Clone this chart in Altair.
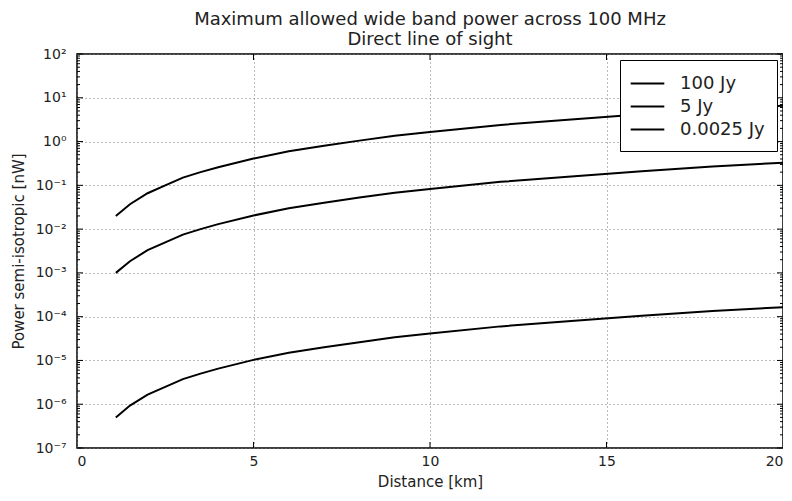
import altair as alt
import pandas as pd

# Distances [km]
distance = [1.1, 1.5, 2.0, 2.5, 3.0, 3.5, 4.0, 5.0, 6.0, 7.0, 8.0, 9.0, 10.0, 12.0, 14.0, 16.0, 18.0, 20.0]
# Power [nW]
p_100 = [0.02, 0.037, 0.066, 0.10, 0.15, 0.2, 0.26, 0.41, 0.6, 0.8, 1.05, 1.35, 1.65, 2.4, 3.2, 4.2, 5.4, 6.6]
p_5 = [0.001, 0.00185, 0.0033, 0.005, 0.0075, 0.01, 0.013, 0.0205, 0.03, 0.04, 0.0525, 0.0675, 0.0825, 0.12, 0.16, 0.21, 0.27, 0.33]
p_00025 = [5e-7, 9.3e-7, 1.65e-6, 2.5e-6, 3.75e-6, 5e-6, 6.5e-6, 1.03e-5, 1.5e-5, 2e-5, 2.6e-5, 3.4e-5, 4.1e-5, 6e-5, 8e-5, 1.05e-4, 1.35e-4, 1.65e-4]
series = ["100 Jy", "5 Jy", "0.0025 Jy"]

y_exponents = [-7, -6, -5, -4, -3, -2, -1, 0, 1, 2]
x_ticks = [0, 5, 10, 15, 20]

W, H = 706, 394
FONT = "DejaVu Sans"
TXT = "#222222"

rows = []
for name, vals in zip(series, [p_100, p_5, p_00025]):
    for d, v in zip(distance, vals):
        rows.append({"d": d, "p": v, "s": name})
df = pd.DataFrame(rows)

major_y = [10.0 ** e for e in y_exponents]
minor_y = [m * 10.0 ** e for e in y_exponents[:-1] for m in range(2, 10)]
xtick_df = pd.DataFrame({"d": x_ticks[1:-1]})
ymaj = pd.DataFrame({"p": major_y})
ymin = pd.DataFrame({"p": minor_y})

sup = str.maketrans("-0123456789", "⁻⁰¹²³⁴⁵⁶⁷⁸⁹")
expr = "''"
for e in reversed(y_exponents):
    expr = f"round(log(datum.value)/LN10) == {e} ? '10{str(e).translate(sup)}' : ({expr})"

xs = alt.Scale(domain=[0, 20], nice=False, zero=False)
ys = alt.Scale(type="log", domain=[1e-7, 1e2], nice=False)
x_axis = alt.Axis(values=x_ticks, grid=True, ticks=False, labelPadding=6, titlePadding=6,
                  titleFontSize=15)
y_axis = alt.Axis(values=major_y, grid=True, ticks=False, labelExpr=expr,
                  labelPadding=11, titlePadding=9, titleFontSize=15)
X_T = "Distance [km]"
Y_T = "Power semi-isotropic [nW]"

lines = alt.Chart(df).mark_line(strokeWidth=2, color="black").encode(
    x=alt.X("d:Q", scale=xs, title=X_T, axis=x_axis),
    y=alt.Y("p:Q", scale=ys, title=Y_T, axis=y_axis),
    color=alt.Color("s:N", scale=alt.Scale(domain=series, range=["black"] * 3),
                    legend=alt.Legend(title=None, orient="none", legendX=543, legendY=6,
                                      symbolType="M-1.6,0H1.6", symbolSize=441,
                                      symbolStrokeWidth=2, labelFontSize=18,
                                      labelFont=FONT, labelColor=TXT,
                                      fillColor="white", strokeColor="black",
                                      padding=12, rowPadding=2, symbolOffset=4,
                                      labelOffset=21)),
    detail="s:N",
)

ticks = []
for data, L in [(ymaj, 6), (ymin, 3)]:
    ticks.append(alt.Chart(data).mark_rule(color="black").encode(
        y=alt.Y("p:Q", scale=ys, title=Y_T, axis=y_axis), x=alt.value(0), x2=alt.value(L)))
    ticks.append(alt.Chart(data).mark_rule(color="black").encode(
        y=alt.Y("p:Q", scale=ys, title=Y_T, axis=y_axis), x=alt.value(W - L), x2=alt.value(W)))
ticks.append(alt.Chart(xtick_df).mark_rule(color="black").encode(
    x=alt.X("d:Q", scale=xs, title=X_T, axis=x_axis), y=alt.value(0), y2=alt.value(6)))
ticks.append(alt.Chart(xtick_df).mark_rule(color="black").encode(
    x=alt.X("d:Q", scale=xs, title=X_T, axis=x_axis), y=alt.value(H - 6), y2=alt.value(H)))

chart = alt.layer(lines, *ticks).properties(
    width=W, height=H,
    title=alt.Title(["Maximum allowed wide band power across 100 MHz", "Direct line of sight"],
                    fontSize=18, font=FONT, fontWeight="normal", color=TXT,
                    anchor="middle", offset=-2, lineHeight=20),
    autosize=alt.AutoSizeParams(type="none"),
    padding={"left": 69, "top": 46, "right": 0, "bottom": 44},
).configure_view(stroke="black", strokeWidth=1.5).configure_axis(
    domain=False, labelFont=FONT, labelFontSize=14, labelColor=TXT,
    titleFont=FONT, titleFontWeight="normal", titleColor=TXT,
    gridColor="#777777", gridDash=[1, 3], gridOpacity=1, gridWidth=1,
)

chart.save("out.html", embed_options={"renderer": "svg", "actions": False})
